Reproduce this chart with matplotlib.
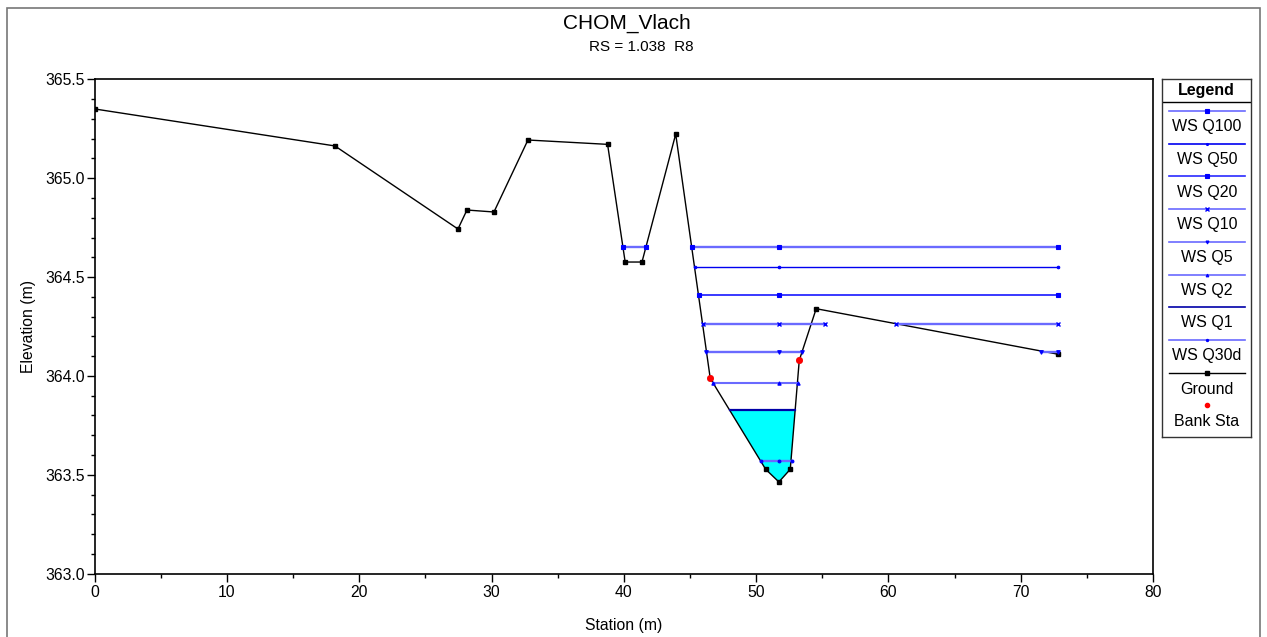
import numpy as np
import matplotlib
matplotlib.use('Agg')
from matplotlib import pyplot as plt
from matplotlib.patches import Rectangle
from matplotlib.lines import Line2D

plt.rcParams['font.family'] = ['Liberation Sans', 'DejaVu Sans']

# ground profile (station, elevation)
ground_x = [0.0, 18.16, 27.46, 28.14, 30.18, 32.75, 38.77, 40.10, 41.37, 43.92,
            46.53, 50.72, 51.72, 52.58, 53.26, 54.54, 72.81]
ground_y = [365.35, 365.163, 364.743, 364.839, 364.829, 365.193, 365.171, 364.576,
            364.576, 365.223, 363.988, 363.528, 363.464, 363.528, 364.079, 364.34, 364.11]

bank_x = [46.53, 53.26]
bank_y = [363.988, 364.079]

# water surfaces
ws_names = ['WS Q100', 'WS Q50', 'WS Q20', 'WS Q10', 'WS Q5', 'WS Q2', 'WS Q1', 'WS Q30d']
ws_elev = [364.654, 364.55, 364.408, 364.263, 364.121, 363.965, 363.828, 363.572]
ws_segments = [
    [(39.95, 41.69), (45.15, 72.81)],
    [(45.35, 72.81)],
    [(45.65, 72.81)],
    [(45.98, 55.22), (60.57, 72.81)],
    [(46.21, 53.46), (71.53, 72.81)],
    [(46.73, 53.14)],
    [(47.99, 52.95)],
    [(50.34, 52.68)],
]

light = '#6a6aff'
dark = '#0000f0'
ws_style = [
    dict(color=light, lw=1.7, marker='s', ms=3.0, mfc='#0000ff', mec='#0000ff'),
    dict(color=dark, lw=1.0, marker='o', ms=1.8, mfc='#0000ff', mec='#0000ff'),
    dict(color='#2a2aff', lw=1.3, marker='s', ms=3.0, mfc='#0000ff', mec='#0000ff'),
    dict(color=light, lw=1.7, marker='x', ms=3.0, mfc='#0000ff', mec='#0000ff', mew=1.0),
    dict(color=light, lw=1.7, marker='v', ms=2.6, mfc='#0000ff', mec='#0000ff'),
    dict(color=light, lw=1.5, marker='^', ms=2.4, mfc='#0000ff', mec='#0000ff'),
    dict(color='#0000a8', lw=1.6, marker='None'),
    dict(color=light, lw=1.7, marker='o', ms=2.0, mfc='#0000ff', mec='#0000ff'),
]

fig = plt.figure(figsize=(12.67, 6.37), dpi=100)
W, H = 1267, 637

# outer frame
fig.patches.append(Rectangle((7 / W, -0.05), (1259.5 - 7) / W, 1.05 - 8 / H,
                             transform=fig.transFigure, fill=False,
                             edgecolor='#777777', lw=1.2))

ax = fig.add_axes([94.7 / W, (H - 573.7) / H, (1153 - 94.7) / W, (573.7 - 79.3) / H])

gx = np.array(ground_x)
gy = np.array(ground_y)
center = gx[np.argmin(gy)]

# filled Q1 water
q1 = ws_elev[6]
a, b = ws_segments[6][0]
inside = (gx > a) & (gx < b)
poly_x = [a] + list(gx[inside]) + [b]
poly_y = [q1] + list(gy[inside]) + [q1]
ax.fill(poly_x, poly_y, color='#00ffff', zorder=1, lw=0)

ax.plot(gx, gy, color='black', lw=1.0, marker='s', ms=2.8, zorder=3)

for i in range(len(ws_names)):
    st = ws_style[i]
    for (s, e) in ws_segments[i]:
        ax.plot([s, e], [ws_elev[i], ws_elev[i]], color=st['color'], lw=st['lw'], zorder=4)
        mx = [s, e]
        if s < center < e:
            mx.append(center)
        if st['marker'] != 'None':
            ax.plot(mx, [ws_elev[i]] * len(mx), ls='none', marker=st['marker'], ms=st['ms'],
                    mfc=st['mfc'], mec=st['mec'], mew=st.get('mew', 0.8), zorder=5)

ax.plot(bank_x, bank_y, ls='none', marker='o', ms=4, color='red', zorder=6)

ax.set_xlim(0, 80)
ax.set_ylim(363.0, 365.5)
ax.set_xticks(np.arange(0, 81, 10))
ax.set_xticks(np.arange(0, 81, 5), minor=True)
ax.set_yticks(np.arange(363.0, 365.51, 0.5))
ax.set_yticks(np.arange(363.0, 365.51, 0.1), minor=True)
ax.set_yticklabels(['%.1f' % v for v in np.arange(363.0, 365.51, 0.5)])
ax.tick_params(which='major', length=5.5, width=1.0, labelsize=11.3, pad=1.5)
ax.tick_params(axis='x', which='major', pad=2.5)
ax.tick_params(which='minor', length=3, width=1.0)
for sp in ax.spines.values():
    sp.set_linewidth(1.2)
ax.set_xlabel('Station (m)', fontsize=11.3, labelpad=13)
ax.set_ylabel('Elevation (m)', fontsize=11.3, labelpad=7)

fig.text(627 / W, 1 - 23.5 / H, 'CHOM_Vlach', ha='center', va='center', fontsize=15)
fig.text(641 / W, 1 - 47 / H, 'RS = 1.038  R8', ha='center', va='center', fontsize=11)

# legend panel
lx0, lx1, ly0, ly1 = 1161.7, 1251, 78.7, 437
lax = fig.add_axes([lx0 / W, (H - ly1) / H, (lx1 - lx0) / W, (ly1 - ly0) / H])
lax.set_xlim(lx0, lx1)
lax.set_ylim(ly1, ly0)
lax.set_xticks([])
lax.set_yticks([])
for sp in lax.spines.values():
    sp.set_linewidth(1.0)
    sp.set_color('#333333')
lax.text((lx0 + lx1) / 2, 90, 'Legend', ha='center', va='center', fontsize=11.5, fontweight='bold')
lax.axhline(101.7, color='black', lw=1.0)
pitch = 32.7
for i in range(len(ws_names)):
    st = ws_style[i]
    yl = 111 + i * pitch
    lax.add_line(Line2D([1169, 1245], [yl, yl], color=st['color'], lw=1.2))
    if st['marker'] != 'None':
        lax.plot([1207], [yl], marker=st['marker'], ms=st['ms'] * 0.8, color='#0000ff',
                 mew=st.get('mew', 0.8))
    lax.text(1207, yl + 15.7, ws_names[i], ha='center', va='center', fontsize=11.5)
yl = 111 + 8 * pitch
lax.add_line(Line2D([1169, 1245], [yl, yl], color='black', lw=1.0))
lax.plot([1207], [yl], marker='s', ms=2.5, color='black')
lax.text(1207, yl + 16.4, 'Ground', ha='center', va='center', fontsize=11.5)
yl = yl + pitch
lax.plot([1207], [yl], marker='o', ms=3, color='red', ls='none')
lax.text(1207, yl + 16.2, 'Bank Sta', ha='center', va='center', fontsize=11.5)

fig.savefig('out.png', dpi=100)
